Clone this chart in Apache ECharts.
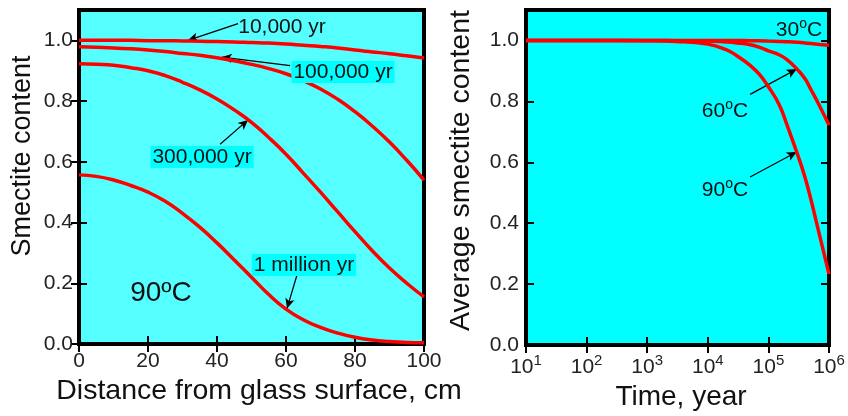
<!DOCTYPE html>
<html>
<head>
<meta charset="utf-8">
<script src="https://cdn.jsdelivr.net/npm/echarts@6/dist/echarts.min.js"></script>
<style>html,body{margin:0;padding:0;background:#fff}#c{width:848px;height:416px}</style>
</head>
<body>
<div id="c"></div>
<script>
// ---- data ----
const distCm = [0, 5, 10, 15, 20, 25, 30, 35, 40, 45, 50, 55, 60, 65, 70, 75, 80, 85, 90, 95, 100];
const yr10k  = [1.0, 1.0, 1.0, 1.0, 0.999, 0.999, 0.998, 0.997, 0.996, 0.995, 0.993, 0.991, 0.988, 0.984, 0.98, 0.975, 0.968, 0.962, 0.956, 0.949, 0.942];
const yr100k = [0.979, 0.977, 0.975, 0.972, 0.968, 0.963, 0.957, 0.951, 0.943, 0.933, 0.921, 0.907, 0.89, 0.867, 0.84, 0.806, 0.765, 0.718, 0.665, 0.605, 0.54];
const yr300k = [0.923, 0.921, 0.918, 0.91, 0.9, 0.884, 0.862, 0.837, 0.807, 0.771, 0.73, 0.68, 0.625, 0.563, 0.5, 0.435, 0.37, 0.307, 0.25, 0.2, 0.155];
const yr1M   = [0.557, 0.552, 0.54, 0.522, 0.5, 0.47, 0.43, 0.385, 0.333, 0.277, 0.22, 0.163, 0.115, 0.08, 0.055, 0.036, 0.022, 0.013, 0.008, 0.005, 0.004];

const timeYr = [10, 100, 1000, 3000, 10000, 20000, 30000, 50000, 70000, 100000, 150000, 200000, 300000, 400000, 500000, 700000, 1000000];
const t30C = [1, 1, 1, 1, 1, 1, 1, 0.999, 0.999, 0.998, 0.997, 0.996, 0.994, 0.992, 0.99, 0.987, 0.984];
const t60C = [1, 1, 1, 0.999, 0.998, 0.995, 0.992, 0.986, 0.978, 0.966, 0.953, 0.938, 0.905, 0.875, 0.84, 0.785, 0.722];
const t90C = [1, 1, 0.999, 0.997, 0.988, 0.97, 0.95, 0.918, 0.89, 0.848, 0.79, 0.726, 0.628, 0.552, 0.48, 0.36, 0.233];

const yTicks = [0, 0.2, 0.4, 0.6, 0.8, 1.0];

// ---- helpers ----
const FONT = "'Liberation Sans', Arial, sans-serif";
const RED = '#ff0000';
function pairs(xs, ys) { return xs.map((x, i) => [x, ys[i]]); }
function arrowLine(from, to) { return [{ coord: from }, { coord: to }]; }

const tickStyle = { show: true, inside: true, length: 8, lineStyle: { color: '#000', width: 2 } };
const labelStyle = { color: '#222', fontSize: 21, fontFamily: FONT };
function nameStyle(size, pad) { return { color: '#111', fontSize: size, fontFamily: FONT, padding: pad }; }

function lineSeries(name, data, xi, yi, arrows) {
  const s = {
    name, type: 'line', data, xAxisIndex: xi, yAxisIndex: yi,
    smooth: 0.5, showSymbol: false, symbol: 'none',
    lineStyle: { color: RED, width: 3.5 }, z: 5, silent: true
  };
  if (arrows) {
    s.markLine = {
      silent: true, symbol: ['none', 'arrow'], symbolSize: [7, 10],
      lineStyle: { color: '#000', width: 1.2, type: 'solid' },
      label: { show: false }, data: arrows, animation: false
    };
  }
  return s;
}

const supRich = {
  a: { fontSize: 21, fill: '#111', fontFamily: FONT, lineHeight: 24, verticalAlign: 'bottom' },
  s: { fontSize: 14, fill: '#111', fontFamily: FONT, lineHeight: 24, verticalAlign: 'top' }
};

const option = {
  animation: false,
  textStyle: { fontFamily: FONT },
  grid: [
    { left: 79, right: 424, top: 10, bottom: 72, show: true, backgroundColor: '#55ffff', borderColor: '#000', borderWidth: 4 },
    { left: 526, right: 19, top: 10, bottom: 66, show: true, backgroundColor: '#00ffff', borderColor: '#000', borderWidth: 4 }
  ],
  xAxis: [
    { gridIndex: 0, type: 'value', min: 0, max: 100, interval: 20, position: 'bottom',
      axisLine: { show: false }, splitLine: { show: false }, axisTick: tickStyle,
      axisLabel: Object.assign({ margin: 7 }, labelStyle),
      name: 'Distance from glass surface, cm', nameLocation: 'middle', nameGap: 32,
      nameTextStyle: nameStyle(28.5, [0, 0, 0, 15]) },
    { gridIndex: 0, type: 'value', min: 0, max: 100, interval: 20, position: 'top',
      axisLine: { show: false }, splitLine: { show: false }, axisTick: tickStyle, axisLabel: { show: false } },
    { gridIndex: 1, type: 'log', logBase: 10, min: 10, max: 1000000, position: 'bottom',
      axisLine: { show: false }, splitLine: { show: false }, minorTick: { show: false }, axisTick: tickStyle,
      axisLabel: {
        margin: 8, color: '#222', fontFamily: FONT,
        formatter: v => '{b|10}{s|' + Math.round(Math.log10(v)) + '}',
        rich: { b: { fontSize: 21, color: '#222', fontFamily: FONT, lineHeight: 25, verticalAlign: 'bottom' },
                s: { fontSize: 15, color: '#222', fontFamily: FONT, lineHeight: 25, verticalAlign: 'top' } }
      },
      name: 'Time, year', nameLocation: 'middle', nameGap: 33,
      nameTextStyle: nameStyle(28, [0, 0, 0, 7]) },
    { gridIndex: 1, type: 'log', logBase: 10, min: 10, max: 1000000, position: 'top',
      axisLine: { show: false }, splitLine: { show: false }, minorTick: { show: false }, axisTick: tickStyle, axisLabel: { show: false } }
  ],
  yAxis: [
    { gridIndex: 0, type: 'value', min: 0, max: 1.1, position: 'left',
      axisLine: { show: false }, splitLine: { show: false },
      axisTick: Object.assign({ customValues: yTicks }, tickStyle),
      axisLabel: Object.assign({ margin: 6, customValues: yTicks, formatter: v => v.toFixed(1) }, labelStyle),
      name: 'Smectite content', nameLocation: 'middle', nameGap: 43,
      nameTextStyle: nameStyle(27, [0, 0, 0, 42]) },
    { gridIndex: 0, type: 'value', min: 0, max: 1.1, position: 'right',
      axisLine: { show: false }, splitLine: { show: false },
      axisTick: Object.assign({ customValues: yTicks }, tickStyle), axisLabel: { show: false } },
    { gridIndex: 1, type: 'value', min: 0, max: 1.1, position: 'left',
      axisLine: { show: false }, splitLine: { show: false },
      axisTick: Object.assign({ customValues: yTicks }, tickStyle),
      axisLabel: Object.assign({ margin: 7, customValues: yTicks, formatter: v => v.toFixed(1) }, labelStyle),
      name: 'Average smectite content', nameLocation: 'middle', nameGap: 50,
      nameTextStyle: nameStyle(28.5, [0, 0, 0, 14]) },
    { gridIndex: 1, type: 'value', min: 0, max: 1.1, position: 'right',
      axisLine: { show: false }, splitLine: { show: false },
      axisTick: Object.assign({ customValues: yTicks }, tickStyle), axisLabel: { show: false } }
  ],
  series: [
    lineSeries('10,000 yr', pairs(distCm, yr10k), 0, 0, [arrowLine([46.1, 1.055], [31.6, 1.0])]),
    lineSeries('100,000 yr', pairs(distCm, yr100k), 0, 0, [arrowLine([61.2, 0.917], [41.4, 0.945])]),
    lineSeries('300,000 yr', pairs(distCm, yr300k), 0, 0, [arrowLine([40.9, 0.658], [49.0, 0.738])]),
    lineSeries('1 million yr', pairs(distCm, yr1M), 0, 0, [arrowLine([63.2, 0.228], [60.3, 0.117])]),
    lineSeries('30°C', pairs(timeYr, t30C), 2, 2),
    lineSeries('60°C', pairs(timeYr, t60C), 2, 2, [arrowLine([49900, 0.823], [293000, 0.906])]),
    lineSeries('90°C', pairs(timeYr, t90C), 2, 2, [arrowLine([49900, 0.552], [293000, 0.634])])
  ],
  graphic: [
    { type: 'text', x: 282, y: 27, z: 100, style: { text: '10,000 yr', fill: '#111', font: '21px ' + FONT, textAlign: 'center', textVerticalAlign: 'middle' } },
    { type: 'text', x: 343, y: 72, z: 100, style: { text: '100,000 yr', fill: '#111', font: '21px ' + FONT, textAlign: 'center', textVerticalAlign: 'middle', backgroundColor: '#00ffff', padding: [1, 2, 0, 2] } },
    { type: 'text', x: 202, y: 157, z: 100, style: { text: '300,000 yr', fill: '#111', font: '21px ' + FONT, textAlign: 'center', textVerticalAlign: 'middle', backgroundColor: '#00ffff', padding: [1, 2, 0, 2] } },
    { type: 'text', x: 304, y: 265, z: 100, style: { text: '1 million yr', fill: '#111', font: '21px ' + FONT, textAlign: 'center', textVerticalAlign: 'middle', backgroundColor: '#00ffff', padding: [1, 2, 0, 2] } },
    { type: 'text', x: 161, y: 293, z: 100, style: { text: '90ºC', fill: '#111', font: '28px ' + FONT, textAlign: 'center', textVerticalAlign: 'middle' } },
    { type: 'text', x: 799, y: 29, z: 100, style: { text: '{a|30}{s|o}{a|C}', textAlign: 'center', textVerticalAlign: 'middle', rich: supRich } },
    { type: 'text', x: 725, y: 110, z: 100, style: { text: '{a|60}{s|o}{a|C}', textAlign: 'center', textVerticalAlign: 'middle', rich: supRich } },
    { type: 'text', x: 725, y: 189, z: 100, style: { text: '{a|90}{s|o}{a|C}', textAlign: 'center', textVerticalAlign: 'middle', rich: supRich } }
  ]
};

const chart = echarts.init(document.getElementById('c'), null, { renderer: 'canvas' });
chart.setOption(option);
</script>
</body>
</html>
